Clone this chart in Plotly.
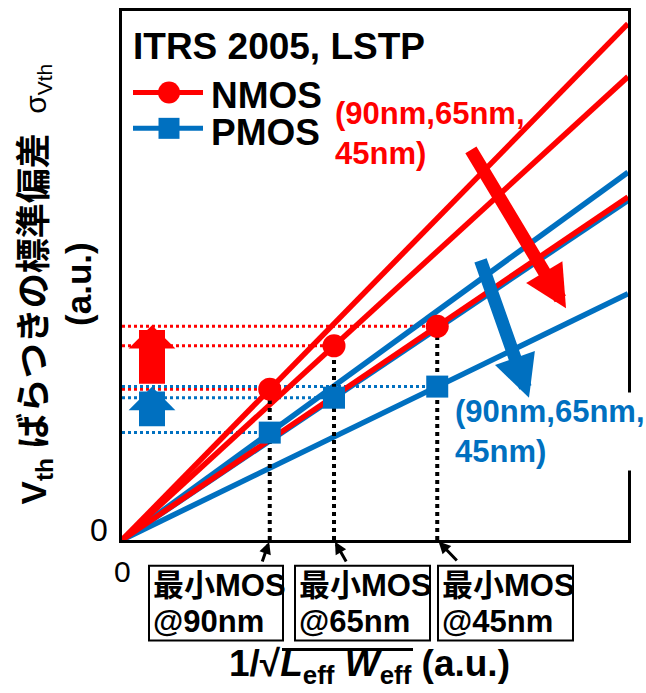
import plotly.graph_objects as go

# technology nodes and sigma(Vth) at the minimum MOS size of each node
nodes = ["90nm", "65nm", "45nm"]
inv_sqrt_lw = [2.92, 4.19, 6.23]      # 1/sqrt(Leff*Weff), a.u.
nmos_sigma = [2.85, 3.67, 4.04]       # a.u.
pmos_sigma = [2.03, 2.69, 2.90]       # a.u.
x_max = 10
y_max = 10

RED = "#FF0000"
BLUE = "#0070C0"
FONT = "Liberation Sans, Arial, Noto Sans CJK JP, sans-serif"

# plot area in pixels: x 122..628, y 8..540
L, R, T, B = 122, 18, 8, 153
W, H = 646, 693
PW, PH = W - L - R, H - T - B


def px(x):
    return (x - L) / PW


def py(y):
    return (H - B - y) / PH


fig = go.Figure()

# dotted level lines from the axis to each marker
for xs, ys, col in [(inv_sqrt_lw, nmos_sigma, RED), (inv_sqrt_lw, pmos_sigma, BLUE)]:
    for xv, yv in zip(xs, ys):
        fig.add_trace(go.Scatter(x=[0, xv], y=[yv, yv], mode="lines",
                                 line=dict(color=col, width=3, dash="dot"),
                                 showlegend=False, hoverinfo="skip"))

# sigma vs 1/sqrt(LW) lines through the origin, one per node
for xv, yv in zip(inv_sqrt_lw, pmos_sigma):
    fig.add_trace(go.Scatter(x=[0, x_max], y=[0, yv / xv * x_max], mode="lines",
                             line=dict(color=BLUE, width=5.5), showlegend=False))
for xv, yv in zip(inv_sqrt_lw, nmos_sigma):
    fig.add_trace(go.Scatter(x=[0, x_max], y=[0, yv / xv * x_max], mode="lines",
                             line=dict(color=RED, width=5.5), showlegend=False))

# vertical guides down to the axis
for xv, yn in zip(inv_sqrt_lw, nmos_sigma):
    fig.add_trace(go.Scatter(x=[xv, xv], y=[0, yn], mode="lines",
                             line=dict(color="black", width=4, dash="4px,4px"),
                             showlegend=False, hoverinfo="skip"))

fig.add_trace(go.Scatter(x=inv_sqrt_lw, y=pmos_sigma, mode="markers", name="PMOS",
                         marker=dict(symbol="square", size=22, color=BLUE), showlegend=False))
fig.add_trace(go.Scatter(x=inv_sqrt_lw, y=nmos_sigma, mode="markers", name="NMOS",
                         marker=dict(symbol="circle", size=23, color=RED), showlegend=False))

shapes = [
    # legend glyphs
    dict(type="line", xref="paper", yref="paper", x0=px(133), x1=px(203), y0=py(90), y1=py(90),
         line=dict(color=RED, width=5)),
    dict(type="circle", xref="paper", yref="paper", xsizemode="pixel", ysizemode="pixel",
         xanchor=px(169), yanchor=py(90), x0=-11, x1=11, y0=-11, y1=11,
         fillcolor=RED, line=dict(width=0)),
    dict(type="line", xref="paper", yref="paper", x0=px(133), x1=px(203), y0=py(126), y1=py(126),
         line=dict(color=BLUE, width=5)),
    dict(type="rect", xref="paper", yref="paper", xsizemode="pixel", ysizemode="pixel",
         xanchor=px(169), yanchor=py(126), x0=-10.5, x1=10.5, y0=-10.5, y1=10.5,
         fillcolor=BLUE, line=dict(width=0)),
    # radical bar over Leff Weff
    dict(type="line", xref="paper", yref="paper", x0=px(282), x1=px(413), y0=py(650), y1=py(650),
         line=dict(color="black", width=3)),
]

ann = []


def text(x, y, t, size, color="black", xanchor="left", **kw):
    ann.append(dict(x=px(x), y=py(y), xref="paper", yref="paper", text=t, showarrow=False,
                    xanchor=xanchor, yanchor="middle", font=dict(size=size, color=color, family=FONT), **kw))


text(131, 44, "<b>ITRS 2005, LSTP</b>", 37)
text(209, 93, "<b>NMOS</b>", 37)
text(209, 130, "<b>PMOS</b>", 37)
text(333, 131, "<b>(90nm,65nm,<br>45nm)</b>", 31, RED, align="left")
text(453, 431, "<b>(90nm,65nm,<br>45nm)</b>", 31, BLUE, align="left", bgcolor="white")
text(99, 530, "0", 32, xanchor="center")
text(122, 572, "0", 30, xanchor="center")
text(369, 667, "<b>1/√<i>L</i><sub>eff</sub>&nbsp;<i>W</i><sub>eff</sub> (a.u.)</b>", 37, xanchor="center")
ann.append(dict(x=px(56), y=py(283), xref="paper", yref="paper", showarrow=False, textangle=-90,
                xanchor="center", yanchor="middle", align="center",
                font=dict(size=35, color="black", family=FONT),
                text="<b>V<sub>th</sub> ばらつきの標準偏差</b>&nbsp;&nbsp;"
                     "<span style='font-size:30px'>σ<sub>Vth</sub></span><br><b>(a.u.)</b>"))

# minimum MOS boxes with arrows to the axis
box_x = [(149, 283), (295, 430), (438, 573)]
arrow_tail = [(-8, 23), (13, 23), (21, 22)]
for node, (x0, x1), xv, (dx, dy) in zip(nodes, box_x, inv_sqrt_lw, arrow_tail):
    shapes.append(dict(type="rect", xref="paper", yref="paper", x0=px(x0), x1=px(x1),
                       y0=py(566), y1=py(641), line=dict(color="black", width=2),
                       fillcolor="white", layer="above"))
    text(x0 + 2, 586, "<b>最小MOS</b>", 31)
    text(x0 + 2, 622, f"<b>@{node}</b>", 31)
    ann.append(dict(x=xv, y=0, xref="x", yref="y", text="", showarrow=True, ax=dx, ay=dy,
                    arrowhead=2, arrowwidth=3, arrowsize=0.8, arrowcolor="black", standoff=2))

# block arrows and trend arrows
ann += [
    dict(x=px(152), y=py(324), xref="paper", yref="paper", text="", showarrow=True, ax=0, ay=60,
         arrowhead=1, arrowwidth=26, arrowsize=0.3, arrowcolor=RED),
    dict(x=px(152), y=py(386), xref="paper", yref="paper", text="", showarrow=True, ax=0, ay=41,
         arrowhead=1, arrowwidth=26, arrowsize=0.3, arrowcolor=BLUE),
    dict(x=px(566), y=py(307), xref="paper", yref="paper", text="", showarrow=True, ax=-96, ay=-160,
         arrowhead=2, arrowwidth=13, arrowsize=0.65, arrowcolor=RED),
    dict(x=px(529), y=py(397), xref="paper", yref="paper", text="", showarrow=True, ax=-49, ay=-139,
         arrowhead=2, arrowwidth=13, arrowsize=0.65, arrowcolor=BLUE),
]

fig.update_layout(
    width=W, height=H,
    margin=dict(l=L, r=R, t=T, b=B),
    plot_bgcolor="white", paper_bgcolor="white",
    showlegend=False,
    shapes=shapes, annotations=ann,
    font=dict(family=FONT),
)
fig.update_xaxes(range=[0, x_max], showgrid=False, zeroline=False, showticklabels=False, ticks="",
                 showline=True, mirror=True, linecolor="black", linewidth=3)
fig.update_yaxes(range=[0, y_max], showgrid=False, zeroline=False, showticklabels=False, ticks="",
                 showline=True, mirror=True, linecolor="black", linewidth=3)

fig.write_html("out.html", config={"displayModeBar": False},
               post_script="document.body.style.margin='0';document.body.style.overflow='hidden';")
